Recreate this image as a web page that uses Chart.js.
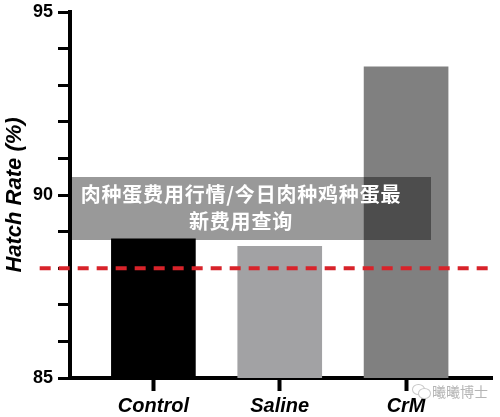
<!DOCTYPE html>
<html>
<head>
<meta charset="utf-8">
<script src="https://cdn.jsdelivr.net/npm/chart.js@4/dist/chart.umd.min.js"></script>
<style>
  html, body { margin: 0; padding: 0; background: #fff; }
  #wrap { position: relative; width: 500px; height: 417px; overflow: hidden; }
  #banner {
    position: absolute; left: 71px; top: 177px; width: 360px; height: 63px;
    background: rgba(0,0,0,0.4);
  }
  #banner .txt {
    position: absolute; left: 6px; top: 3px; width: 328px;
    color: #fff; font-family: "Noto Sans CJK SC", sans-serif; font-weight: 700;
    font-size: 20px; line-height: 27px; text-align: center; letter-spacing: 0.8px;
  }
  #wm {
    position: absolute; left: 432px; top: 382px; color: #b5b5b5;
    font-family: "Noto Sans CJK SC", sans-serif; font-size: 14px; line-height: 18px;
  }
  #icon { position: absolute; left: 411px; top: 383px; width: 20px; height: 16px; }
  #icon span { position: absolute; border: 1px solid #c8c8c8; border-radius: 50%; background: #fff; }
</style>
</head>
<body>
<div id="wrap">
  <canvas id="c" width="500" height="417"></canvas>
  <div id="banner"><div class="txt">肉种蛋费用行情/今日肉种鸡种蛋最<br>新费用查询</div></div>
  <div id="icon"><span style="left:1px;top:1px;width:11px;height:9px"></span><span style="left:7px;top:5px;width:11px;height:9px"></span></div>
  <div id="wm">曦曦博士</div>
</div>
<script>
const categories = ["Control", "Saline", "CrM"];
const hatchRate = [88.8, 88.6, 93.5];
const barColors = ["#000000", "#a2a2a4", "#808080"];
const yTickLabels = [85, 90, 95];
const threshold = 88;
const thresholdXRange = [-0.9, 2.68];

const barData = categories.map((c, i) => ({ x: i, y: hatchRate[i] }));
const lineData = thresholdXRange.map(x => ({ x: x, y: threshold }));

new Chart(document.getElementById("c"), {
  type: "bar",
  data: {
    datasets: [
      {
        type: "line",
        data: lineData,
        borderColor: "#d8232a",
        borderWidth: 4,
        borderDash: [11, 8],
        pointRadius: 0,
        fill: false,
        clip: false,
        order: 0
      },
      {
        type: "bar",
        data: barData,
        backgroundColor: barColors,
        borderWidth: 0,
        barThickness: 84,
        order: 1
      }
    ]
  },
  options: {
    responsive: false,
    animation: false,
    layout: { padding: { top: 12, right: 8, left: 2, bottom: 0 } },
    plugins: { legend: { display: false }, tooltip: { enabled: false } },
    scales: {
      x: {
        type: "linear",
        offset: false,
        min: -0.66,
        max: 2.68,
        afterBuildTicks: (s) => { s.ticks = categories.map((c, i) => ({ value: i })); },
        afterFit: (s) => { s.height = 39; },
        ticks: {
          callback: (v) => categories[v] ?? "",
          color: "#000",
          font: { family: "Liberation Sans", size: 20, weight: "bold", style: "italic" },
          padding: 3,
          maxRotation: 0
        },
        grid: { offset: false, drawOnChartArea: false, drawTicks: true, tickLength: 13, tickWidth: 4, tickColor: "#000" },
        border: { display: true, width: 4, color: "#000" }
      },
      y: {
        min: 85,
        max: 95,
        afterFit: (s) => { s.width = 68; s.paddingTop = 0; s.paddingBottom = 0; },
        ticks: {
          stepSize: 1,
          callback: (v) => yTickLabels.includes(v) ? String(v) : "",
          color: "#000",
          font: { family: "Liberation Sans", size: 18, weight: "bold" },
          padding: 5
        },
        grid: { drawOnChartArea: false, drawTicks: true, tickLength: 12, tickWidth: 3, tickColor: "#000" },
        border: { display: true, width: 4, color: "#000" },
        title: {
          display: true,
          text: "Hatch Rate (%)",
          color: "#000",
          font: { family: "Liberation Sans", size: 22, weight: "bold", style: "italic" },
          padding: { top: 0, bottom: 0 }
        }
      }
    }
  }
});
</script>
</body>
</html>
